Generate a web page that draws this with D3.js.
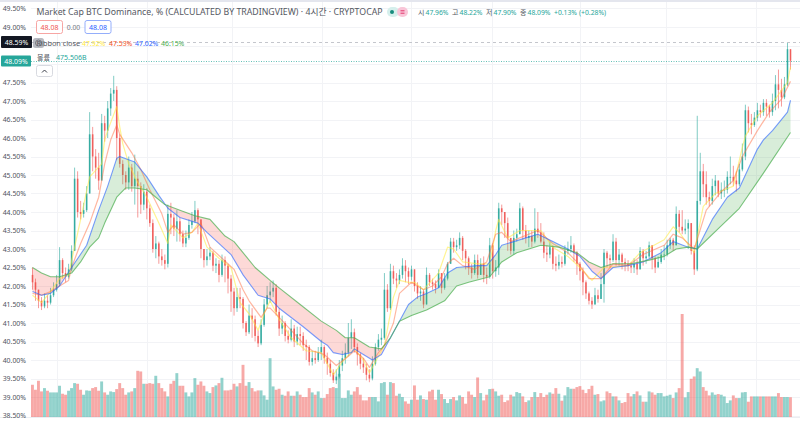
<!DOCTYPE html>
<html lang="ko">
<head>
<meta charset="utf-8">
<title>Market Cap BTC Dominance</title>
<script src="https://cdn.jsdelivr.net/npm/d3@7"></script>
<style>
html,body{margin:0;padding:0;background:#fff;overflow:hidden}
svg{display:block}
text{font-family:"Noto Sans","Noto Sans CJK KR",sans-serif}
</style>
</head>
<body>
<svg id="chart" width="800" height="421"></svg>
<script>
const closes = [
42.1,41.9,41.6,41.45,41.6,41.55,41.75,41.9,42.05,42.7,
42.35,42.25,42.45,42.95,44.9,44.0,43.95,44.05,44.5,46.1,
45.5,45.2,44.85,46.4,46.2,46.8,47.2,47.3,46.0,45.3,
45.0,44.8,45.2,44.7,44.9,44.7,44.2,44.55,44.1,43.7,
43.0,43.15,42.8,42.7,42.6,43.95,43.85,43.55,43.75,43.4,
43.15,43.3,43.65,43.75,44.05,43.8,43.0,42.7,42.8,42.9,
42.55,42.6,42.3,42.7,42.55,42.2,41.85,41.4,41.7,41.65,
41.0,40.75,41.2,41.1,40.65,40.45,40.95,41.5,41.75,41.85,
41.95,41.3,40.85,41.0,40.65,40.55,40.85,40.5,40.7,40.65,
40.4,40.35,39.95,40.05,40.0,40.2,40.35,40.05,39.9,39.65,
39.45,39.55,39.85,40.05,40.2,40.6,40.75,40.35,40.15,39.9,
39.8,39.6,39.5,39.9,40.35,40.55,40.6,41.9,41.4,42.4,
42.2,42.15,42.3,42.55,42.4,42.25,42.45,42.0,41.8,41.85,
41.5,42.3,42.1,42.05,41.95,42.35,41.95,42.2,42.6,43.2,
43.05,43.1,43.3,42.95,42.75,42.5,42.35,42.7,42.3,42.6,
42.3,42.25,43.1,42.4,42.5,44.1,44.0,43.7,43.3,42.95,
43.3,43.4,44.1,43.5,43.3,43.35,43.2,43.55,43.45,43.2,
42.9,42.85,43.05,42.6,42.55,42.65,42.6,42.95,43.0,43.1,
42.9,42.6,42.4,42.1,41.8,41.6,41.5,41.75,41.65,42.05,
42.9,42.75,42.7,43.2,42.7,42.85,42.65,42.6,42.55,42.5,
42.6,42.45,42.95,42.75,42.8,43.1,42.75,42.5,42.65,42.85,
42.85,43.1,43.25,43.1,43.95,43.6,43.5,43.55,43.7,42.95,
42.45,44.3,45.1,44.75,44.4,44.3,44.7,44.85,44.5,44.6,
44.6,44.95,44.95,44.85,44.75,45.15,45.5,46.75,46.4,46.35,
46.55,46.75,46.7,46.95,46.85,46.7,47.0,47.45,47.3,47.1,
47.45,48.4,48.09];
const highs = [
42.5,42.2,41.9,41.7,41.8,41.75,41.95,42.1,42.3,43.05,
42.75,42.5,42.6,43.1,45.2,45.1,44.3,44.25,44.7,46.7,
46.3,45.7,45.6,46.65,46.6,47.0,47.35,47.68,47.4,46.1,
45.4,45.1,45.5,45.3,45.55,45.1,44.8,44.75,44.65,44.2,
43.8,43.35,43.2,43.0,42.85,44.2,44.25,43.95,44.05,43.85,
43.5,43.5,43.8,44.0,44.3,44.1,43.75,42.95,43.0,43.05,
42.95,42.75,42.7,42.85,42.8,42.6,42.3,41.95,41.95,41.95,
41.7,41.05,41.5,41.4,41.2,40.8,41.1,41.65,42.0,42.1,
42.15,42.05,41.4,41.2,41.05,40.8,41.1,40.95,40.9,40.9,
40.75,40.55,40.4,40.25,40.25,40.35,40.55,40.4,40.2,40.0,
39.75,39.75,40.0,40.25,40.45,41.0,41.1,40.85,40.45,40.2,
40.05,39.9,39.75,40.1,40.45,40.7,40.85,42.35,42.05,42.6,
42.55,42.35,42.45,42.75,42.7,42.5,42.55,42.45,42.1,42.0,
41.9,42.5,42.35,42.2,42.15,42.45,42.35,42.35,42.65,43.3,
43.3,43.25,43.45,43.35,43.0,42.8,42.6,42.85,42.85,42.75,
42.8,42.5,43.3,43.15,42.7,44.25,44.2,44.0,43.85,43.3,
43.5,43.55,44.25,44.15,43.65,43.5,43.5,44.1,44.0,43.7,
43.45,43.1,43.2,43.1,42.8,42.85,42.8,43.1,43.2,43.35,
43.15,42.95,42.65,42.5,42.15,41.85,41.7,41.95,41.9,42.35,
43.0,42.95,42.85,43.4,43.3,43.0,42.9,42.75,42.7,42.65,
42.75,42.7,43.05,43.0,42.95,43.2,43.1,42.8,42.8,43.0,
43.1,43.25,43.3,43.3,44.15,44.05,44.05,43.8,43.8,43.7,
43.1,46.6,45.6,45.3,45.1,44.55,44.9,45.0,44.8,44.8,
44.85,45.1,45.5,45.25,45.1,45.3,45.85,46.9,46.85,46.65,
46.7,46.95,46.9,47.05,47.05,46.9,47.2,47.7,47.85,47.6,
47.65,48.59,48.35];
const lows = [
41.9,41.6,41.4,41.35,41.4,41.4,41.5,41.7,41.85,42.0,
42.2,42.1,42.2,42.4,43.4,43.85,43.8,43.85,44.0,44.5,
45.1,44.9,44.6,44.85,45.9,46.0,46.6,47.0,45.4,45.2,
44.75,44.6,44.6,44.55,44.2,43.85,43.95,44.05,43.8,43.6,
42.9,42.75,42.6,42.55,42.45,42.5,43.4,43.35,43.2,43.2,
43.05,43.05,43.25,43.55,43.7,43.4,42.75,42.5,42.55,42.7,
42.4,42.35,42.1,42.25,42.1,41.8,41.3,41.2,41.3,41.4,
40.85,40.65,40.7,40.6,40.5,40.35,40.4,40.9,41.4,41.55,
41.7,41.2,40.65,40.7,40.5,40.45,40.5,40.35,40.4,40.4,
40.25,40.0,39.85,39.85,39.9,39.95,40.0,39.9,39.6,39.55,
39.38,39.35,39.5,39.7,39.9,40.1,40.3,40.2,39.85,39.75,
39.65,39.45,39.4,39.45,39.85,40.25,40.4,40.55,41.3,41.35,
42.05,41.95,42.05,42.2,42.1,42.05,42.15,41.85,41.65,41.6,
41.4,41.5,42.0,41.9,41.8,41.95,41.8,41.9,42.15,42.6,
42.9,42.95,43.0,42.7,42.45,42.3,42.2,42.3,42.2,42.3,
42.1,42.05,42.2,42.2,42.25,42.3,43.65,43.3,42.95,42.85,
42.85,43.2,43.4,43.25,43.15,43.05,43.05,43.15,43.3,43.15,
42.75,42.65,42.75,42.45,42.4,42.45,42.5,42.55,42.85,42.9,
42.65,42.3,42.15,41.75,41.65,41.5,41.38,41.5,41.55,41.65,
41.55,42.5,42.5,42.65,42.55,42.55,42.45,42.4,42.4,42.35,
42.35,42.3,42.45,42.55,42.6,42.75,42.45,42.35,42.5,42.6,
42.7,42.8,43.0,42.95,43.1,43.45,43.4,43.4,43.0,42.85,
42.3,42.4,44.2,44.4,44.2,44.15,44.2,44.45,44.4,44.35,
44.4,44.5,44.75,44.7,44.55,44.7,45.1,45.4,46.15,46.1,
46.3,46.45,46.55,46.6,46.6,46.55,46.6,46.75,46.8,46.85,
47.05,47.4,47.85];
const firstOpen = 42.3;
const volumes = [
776,656,872,616,696,632,592,592,592,752,
560,536,632,696,816,800,656,536,640,632,
696,720,632,856,592,536,616,600,672,816,
696,536,592,616,696,1112,1096,800,800,816,
800,992,816,696,616,496,800,872,1056,752,
752,592,496,592,936,776,856,752,616,576,
720,760,816,944,640,640,656,800,736,816,
1256,752,840,696,616,640,640,520,416,1416,
736,656,680,536,512,616,512,512,616,536,
480,480,696,592,536,616,456,456,552,696,
720,696,1040,456,456,640,536,616,720,536,
400,400,480,480,480,376,816,840,536,840,
816,512,560,480,376,320,416,760,416,520,
432,416,616,656,416,656,552,432,336,432,
480,400,520,480,320,616,536,480,952,576,
400,536,672,680,616,512,536,360,400,536,
496,600,576,496,360,400,
480,600,480,576,480,536,592,560,696,560,
392,520,720,680,680,720,744,656,576,672,
752,536,552,376,400,616,576,496,496,400,
336,360,576,496,552,616,520,368,368,616,
592,536,576,576,496,512,536,456,592,696,
2480,
472,600,920,976,1176,1096,720,632,520,592,
536,552,536,496,336,400,520,456,456,592,
600,368,496,496,496,496,496,496,496,496,
496,576,480,480,480,475.5];

const yellowBars = [0,3,6,9,12,14,16,19,23,24,25,28,29,30,32,35,38,42,45,46,50,53,55,58,62,66,69,72,75,77,79,82,86,91,96,100,103,107,110,112,117,120,122,125,127,130,135,138,140,143,148,152,154,155,158,162,169,173,178,182,186,190,198,202,210,213,215,220,223,227,233,236,237,241,246,251,252];
const yellowVals = [41.75,41.55,41.85,42.2,42.3,43.05,43.8,44.95,45.3,45.95,46.2,46.85,46.3,45.85,45.3,44.8,44.4,43.7,43.15,43.65,43.3,43.45,43.7,43.05,42.75,42.5,41.55,41.25,40.8,41.25,41.6,41.1,40.6,40.25,40.2,39.6,39.95,40.3,40.0,39.65,40.4,41.7,42.15,42.1,42.1,41.9,42.35,43.05,43.0,42.65,42.6,42.6,43.5,43.8,43.3,43.5,43.5,43.05,42.8,42.5,42.15,42.5,42.55,42.9,43.25,43.6,43.45,42.9,44.15,44.5,44.7,45.75,46.05,46.6,46.95,47.5,47.92];
const orangeBars = [0,3,6,12,13,16,19,22,24,26,28,29,33,36,39,43,45,47,50,53,56,59,63,67,70,72,76,78,79,82,86,90,93,97,101,105,107,110,112,115,117,120,122,126,128,130,133,136,138,140,143,147,151,154,156,159,162,168,173,178,181,185,189,193,198,203,210,213,216,220,224,229,233,236,241,245,249,252];
const orangeVals = [41.8,41.75,41.85,42.15,42.5,43.15,43.7,44.4,45.3,45.95,46.35,46.1,45.6,45.15,44.6,43.95,43.45,43.65,43.4,43.45,43.7,43.05,42.75,42.45,41.9,41.6,41.15,41.4,41.4,41.15,40.8,40.45,40.25,40.15,39.85,40.1,40.25,40.05,39.8,40.2,40.4,41.0,41.8,42.1,42.0,41.9,42.0,42.25,42.6,42.75,42.55,42.45,42.65,43.4,43.45,43.2,43.3,43.5,43.15,42.9,42.65,42.2,42.2,42.6,42.55,42.85,43.1,43.4,43.3,43.0,44.05,44.55,44.85,45.5,46.2,46.7,47.05,47.53];
const blueBars = [0,3,6,9,13,18,22,25,28,29,34,38,42,45,49,55,58,66,70,75,79,82,86,90,96,98,100,103,106,107,110,113,116,119,122,125,128,131,135,138,141,148,151,154,156,160,164,168,173,178,182,186,189,193,198,203,209,213,218,221,226,231,235,241,243,246,251,252];
const blueVals = [41.85,41.75,41.8,42.0,42.5,43.1,44.05,44.7,45.45,45.5,45.35,44.95,44.45,44.1,43.85,43.7,43.45,42.85,42.3,41.75,41.65,41.4,41.15,40.9,40.5,40.4,40.2,40.15,40.2,40.3,40.15,40.0,40.15,40.6,41.05,41.5,41.7,41.8,41.95,42.35,42.5,42.55,42.55,42.85,43.1,43.2,43.3,43.4,43.2,43.0,42.8,42.4,42.2,42.5,42.55,42.65,42.9,43.2,43.05,43.0,43.8,44.4,44.65,45.7,45.95,46.2,46.7,47.02];
const greenBars = [0,3,6,9,13,15,16,19,22,24,28,31,34,38,41,44,49,54,59,64,67,71,74,79,82,89,96,101,104,107,112,116,119,122,126,131,137,141,145,152,156,161,165,169,175,181,185,189,193,199,205,210,214,218,221,228,235,243,252];
const greenVals = [42.5,42.35,42.25,42.25,42.35,42.55,42.65,43.05,43.3,43.7,44.4,44.65,44.65,44.6,44.4,44.2,44.05,43.9,43.8,43.35,43.2,42.8,42.5,42.15,41.95,41.5,41.05,40.8,40.6,40.6,40.35,40.3,40.6,41.05,41.2,41.35,41.6,42.0,42.1,42.25,42.65,42.9,43.0,43.1,43.05,42.9,42.65,42.5,42.6,42.6,42.7,42.8,43.0,43.05,43.0,43.55,44.1,45.05,46.15];

const yTicks = [38.5,39,39.5,40,40.5,41,41.5,42,42.5,43,43.5,44,44.5,45,45.5,46,46.5,47,47.5,48,48.5,49,49.5];
const hiddenTickLabels = [48,48.5];
const gridBars = [8.3,37.9,66.4,96.3,125.9,152.8,182,210.6,240.5];
const lastPriceHigh = 48.59, lastPrice = 48.09;
const titleText = "Market Cap BTC Dominance, % (CALCULATED BY TRADINGVIEW) · 4시간 · CRYPTOCAP";
const ribbonName = "Ribbon close";
const volumeName = "볼륨";
const ribbonLabels = ["47.92%","47.53%","47.02%","46.15%"];
const ribbonLabelColors = ["#ffeb3b","#f4511e","#2962ff","#4caf50"];
const volumeLabel = "475.506B";
const ohlcKeys = ["시","고","저","종"];
const ohlcVals = ["47.96%","48.22%","47.90%","48.09%"];
const changeText = ["+0.13%","(+0.28%)"];
const quote = ["48.08","0.00","48.08"];

const W = 800, H = 421;
const plot = {left:31, right:800, top:2, bottom:417};
const TEAL = "#26a69a", RED = "#ef5350";
const svg = d3.select("#chart");

const x = d3.scaleLinear().domain([0,252]).range([32.5,790.5]);
const y = d3.scaleLinear().domain([39,49]).range([397,27]);
const yVol = d3.scaleLinear().domain([0,2480]).range([417,314]);

const opens = closes.map((c,i)=> i ? closes[i-1] : firstOpen);
const isUp = i => closes[i] >= opens[i];
const bars = d3.range(closes.length);

svg.append("rect").attr("width",W).attr("height",H).attr("fill","#fff");
svg.append("rect").attr("width",W).attr("height",2).attr("fill","#e4e6ee");
svg.append("line").attr("x1",0).attr("x2",W).attr("y1",417.5).attr("y2",417.5).attr("stroke","#eceef2");

const grid = svg.append("g");
grid.selectAll(".h").data(yTicks).join("line").attr("class","h")
  .attr("x1",plot.left).attr("x2",plot.right)
  .attr("y1",d=>Math.round(y(d))+.5).attr("y2",d=>Math.round(y(d))+.5)
  .attr("stroke","#f2f3f6");
grid.selectAll(".v").data(gridBars).join("line").attr("class","v")
  .attr("x1",d=>Math.round(x(d))+.5).attr("x2",d=>Math.round(x(d))+.5)
  .attr("y1",plot.top).attr("y2",plot.bottom)
  .attr("stroke","#f2f3f6");

svg.append("g").selectAll("rect").data(bars).join("rect")
  .attr("x",i=>x(i)-1.5).attr("width",2.9)
  .attr("y",i=>yVol(volumes[i])).attr("height",i=>417-yVol(volumes[i]))
  .attr("fill",i=>isUp(i)?TEAL:RED).attr("fill-opacity",.5);

const candles = svg.append("g");
candles.selectAll(".w").data(bars).join("line").attr("class","w")
  .attr("x1",i=>x(i)).attr("x2",i=>x(i))
  .attr("y1",i=>y(Math.max(highs[i],opens[i],closes[i])))
  .attr("y2",i=>y(Math.min(lows[i],opens[i],closes[i])))
  .attr("stroke",i=>isUp(i)?TEAL:RED).attr("stroke-width",.9).attr("stroke-opacity",.65);
candles.selectAll(".b").data(bars).join("rect").attr("class","b")
  .attr("x",i=>x(i)-.8).attr("width",1.6)
  .attr("y",i=>y(Math.max(opens[i],closes[i])))
  .attr("height",i=>Math.max(.8,Math.abs(y(opens[i])-y(closes[i]))))
  .attr("fill",i=>isUp(i)?TEAL:RED).attr("fill-opacity",.85);

const blueAt = d3.scaleLinear().domain(blueBars).range(blueVals);
const greenAt = d3.scaleLinear().domain(greenBars).range(greenVals);
const samples = d3.range(0,252.01,.25);
const fillArea = d3.area().x(d=>x(d));
svg.append("path").datum(samples).attr("fill","#4caf50").attr("fill-opacity",.22)
  .attr("d",fillArea.y0(d=>y(greenAt(d))).y1(d=>y(Math.max(blueAt(d),greenAt(d)))));
svg.append("path").datum(samples).attr("fill","#f44336").attr("fill-opacity",.2)
  .attr("d",fillArea.y0(d=>y(blueAt(d))).y1(d=>y(Math.max(blueAt(d),greenAt(d)))));

const ribbons = [
  {b:yellowBars,v:yellowVals,c:"#ffeb3b",w:1.2,o:.55},
  {b:orangeBars,v:orangeVals,c:"#ff7043",w:1.2,o:.5},
  {b:blueBars,v:blueVals,c:"#2962ff",w:1.1,o:.62},
  {b:greenBars,v:greenVals,c:"#4caf50",w:1.1,o:.72}
];
const lineGen = d3.line().x(d=>x(d[0])).y(d=>y(d[1]));
svg.append("g").selectAll("path").data(ribbons).join("path")
  .attr("fill","none").attr("stroke",d=>d.c).attr("stroke-width",d=>d.w)
  .attr("stroke-opacity",d=>d.o).attr("stroke-linejoin","round")
  .attr("d",d=>lineGen(d3.zip(d.b,d.v)));

const hiY = Math.round(y(lastPriceHigh))+.5, lastY = Math.round(y(lastPrice))+.5;
svg.append("line").attr("x1",plot.left).attr("x2",W).attr("y1",hiY).attr("y2",hiY)
  .attr("stroke","#c4c6cc").attr("stroke-dasharray","3 3");
svg.append("line").attr("x1",plot.left).attr("x2",W).attr("y1",lastY).attr("y2",lastY)
  .attr("stroke",TEAL).attr("stroke-opacity",.7).attr("stroke-dasharray","1 1.5");

const axisG = svg.append("g").attr("transform",`translate(${plot.left-5},0)`)
  .call(d3.axisLeft(y).tickValues(yTicks.filter(t=>!hiddenTickLabels.includes(t))).tickSize(0).tickPadding(0).tickFormat(d=>d3.format(".2f")(d)+"%"));
axisG.select(".domain").remove();
axisG.selectAll("text").attr("font-size",6.9).attr("fill","#50535e")
  .style("font-family",'"Noto Sans",sans-serif');

const tag = (yv,fill,label,w,h)=>{
  const cy = Math.round(y(yv));
  svg.append("rect").attr("x",1).attr("y",cy-h/2).attr("width",w).attr("height",h).attr("fill",fill).attr("rx",1);
  svg.append("text").attr("x",1+w/2).attr("y",cy+.5).attr("dy",".34em").attr("text-anchor","middle")
    .attr("font-size",6.9).attr("fill","#fff").text(label);
};
tag(lastPriceHigh,"#131722",lastPriceHigh.toFixed(2)+"%",31,12);
tag(lastPrice,TEAL,lastPrice.toFixed(2)+"%",30,11);
svg.append("rect").attr("x",33).attr("y",38).attr("width",11).attr("height",10).attr("rx",2.5)
  .attr("fill","#9a9da6").attr("fill-opacity",.7);
svg.append("circle").attr("cx",38.5).attr("cy",43).attr("r",3).attr("fill","none").attr("stroke","#6b6e78").attr("stroke-width",.9);

const text = (tx,ty,str,size,fill,anchor)=>svg.append("text").attr("x",tx).attr("y",ty)
  .attr("font-size",size).attr("fill",fill).attr("text-anchor",anchor||"start").text(str);

text(36.5,15,titleText,8.75,"#555862");

svg.append("rect").attr("x",387).attr("y",7).attr("width",12).attr("height",10).attr("rx",5).attr("fill","#d5efec");
svg.append("rect").attr("x",397).attr("y",7).attr("width",11).attr("height",10).attr("rx",5).attr("fill","#f9c6d8");
svg.append("circle").attr("cx",392).attr("cy",12).attr("r",2).attr("fill","#178b7d");
svg.append("path").attr("d","M400.5 10.8h4M400.5 13.2h4").attr("stroke","#e0245e").attr("stroke-width",.9);

const ohlcKeyX = [418,452,486,520], ohlcValX = [425.5,459.5,493.5,527.5];
ohlcKeys.forEach((k,i)=>{
  text(ohlcKeyX[i],15,k,7,"#555862");
  text(ohlcValX[i],15,ohlcVals[i],6.8,TEAL);
});
text(554,15,changeText[0],6.8,TEAL);
text(579,15,changeText[1],6.8,TEAL);

svg.append("rect").attr("x",36.5).attr("y",20.5).attr("width",26).attr("height",13).attr("rx",2)
  .attr("fill","#fff").attr("stroke","#f7a5a3");
text(49.5,30,quote[0],7,RED,"middle");
text(73.5,30,quote[1],6.8,"#787b86","middle");
svg.append("rect").attr("x",85).attr("y",20.5).attr("width",26).attr("height",13).attr("rx",2)
  .attr("fill","#fff").attr("stroke","#94aefb");
text(98,30,quote[2],7,"#2962ff","middle");

text(36.5,46,ribbonName,7.3,"#555862");
const ribbonLabelX = [82,109,135,161];
ribbonLabels.forEach((s,i)=>text(ribbonLabelX[i],46,s,6.9,ribbonLabelColors[i]));
text(37,60,volumeName,7,"#555862");
text(56,60,volumeLabel,7,TEAL);

svg.append("rect").attr("x",36.5).attr("y",65.5).attr("width",16).attr("height",11).attr("rx",2)
  .attr("fill","#fff").attr("stroke","#d8dae0");
svg.append("path").attr("d","M42 72.5l2.5-2.5l2.5 2.5").attr("fill","none").attr("stroke","#3b3e48").attr("stroke-width",1);
</script>
</body>
</html>
